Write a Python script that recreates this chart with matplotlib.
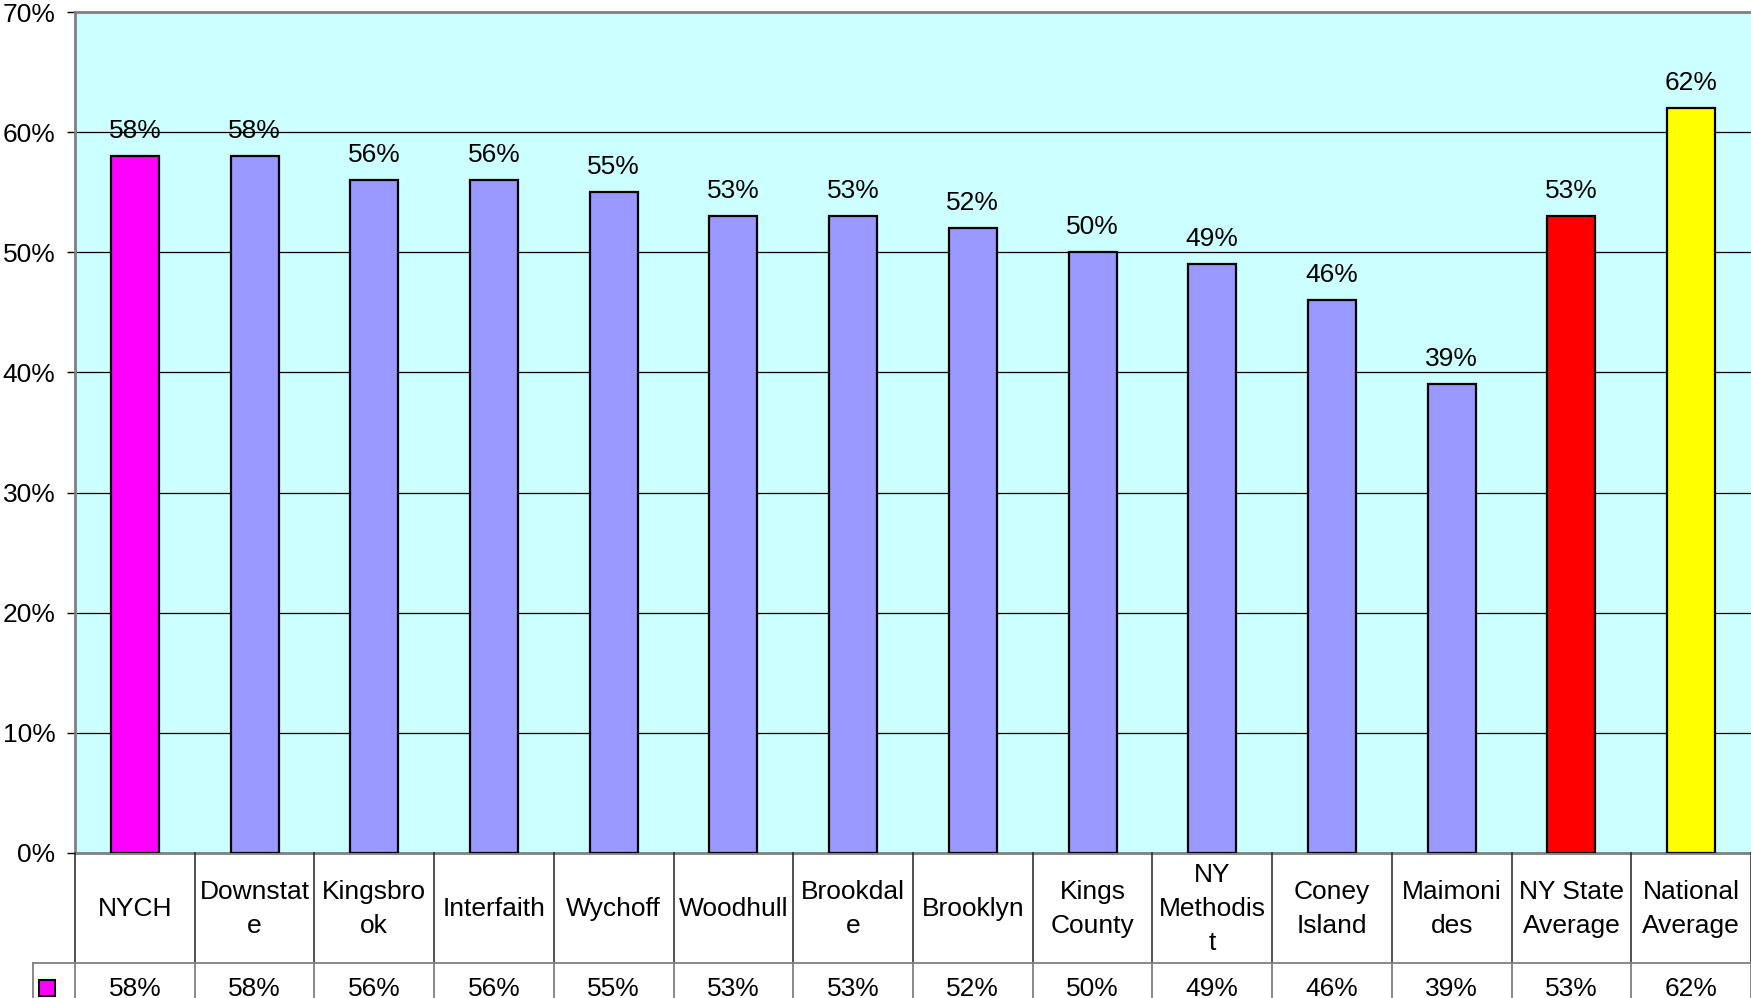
import matplotlib
matplotlib.use("Agg")
import matplotlib.pyplot as plt
from matplotlib.transforms import blended_transform_factory
from matplotlib.lines import Line2D
from matplotlib.patches import Rectangle

# chart data
hospitals = ["NYCH", "Downstat\ne", "Kingsbro\nok", "Interfaith", "Wychoff",
             "Woodhull", "Brookdal\ne", "Brooklyn", "Kings\nCounty",
             "NY\nMethodis\nt", "Coney\nIsland", "Maimoni\ndes",
             "NY State\nAverage", "National\nAverage"]
rates = [58, 58, 56, 56, 55, 53, 53, 52, 50, 49, 46, 39, 53, 62]
bar_colors = ["#FF00FF"] + ["#9999FF"] * 11 + ["#FF0000", "#FFFF00"]
yticks = [0, 10, 20, 30, 40, 50, 60, 70]

plt.rcParams['font.family'] = ['Liberation Sans', 'DejaVu Sans']
FS = 19

W, H = 1751, 998
fig = plt.figure(figsize=(W / 100, H / 100), dpi=100)

# plot area in pixels
left, top, bottom, right = 75, 12, 853, 1751
ax = fig.add_axes([left / W, 1 - bottom / H, (right - left) / W, (bottom - top) / H])
ax.set_facecolor("#CCFFFF")

x = list(range(len(rates)))
ax.bar(x, rates, width=0.4, color=bar_colors, edgecolor="black", linewidth=1.6, zorder=3)

for xi, v in zip(x, rates):
    ax.annotate(f"{v}%", (xi, v), xytext=(0, 9.5), textcoords="offset points",
                ha="center", va="bottom", fontsize=FS)

ax.set_xlim(-0.5, len(rates) - 0.5)
ax.set_ylim(0, 70)
ax.set_yticks(yticks)
ax.set_yticklabels([f"{t}%" for t in yticks], fontsize=FS)
ax.tick_params(axis="y", length=6, width=1, pad=8, color="black")
ax.set_xticks([])
ax.yaxis.grid(True, color="black", linewidth=0.9, zorder=1)
ax.set_axisbelow(True)

for side in ["top", "left"]:
    ax.spines[side].set_color("#808080")
    ax.spines[side].set_linewidth(2)
ax.spines["bottom"].set_color("#808080")
ax.spines["bottom"].set_linewidth(2)
ax.spines["right"].set_visible(False)

# data table under the chart
tr = blended_transform_factory(ax.transData, fig.transFigure)
fy = lambda py: 1 - py / H
row1_bot = 963
for k in range(len(rates) + 1):
    fig.add_artist(Line2D([k - 0.5, k - 0.5], [fy(bottom), fy(row1_bot)], transform=tr,
                          color="#202020", linewidth=1.1))
    fig.add_artist(Line2D([k - 0.5, k - 0.5], [fy(row1_bot), fy(H + 5)], transform=tr,
                          color="#808080", linewidth=1.3))
fig.add_artist(Line2D([33 / W, 1.0], [fy(row1_bot), fy(row1_bot)],
                      transform=fig.transFigure, color="#808080", linewidth=1.3))
fig.add_artist(Line2D([33 / W, 33 / W], [fy(row1_bot), fy(H + 5)],
                      transform=fig.transFigure, color="#808080", linewidth=1.3))
fig.add_artist(Rectangle((38.5 / W, fy(996)), 16 / W, 16 / H, transform=fig.transFigure,
                         facecolor="#FF00FF", edgecolor="black", linewidth=1.5))

for xi, name, v in zip(x, hospitals, rates):
    fig.text(xi, fy(909), name, transform=tr, ha="center", va="center",
             fontsize=FS, linespacing=1.5)
    fig.text(xi, fy(989), f"{v}%", transform=tr, ha="center", va="center", fontsize=FS)

fig.savefig("out.png", dpi=100)
